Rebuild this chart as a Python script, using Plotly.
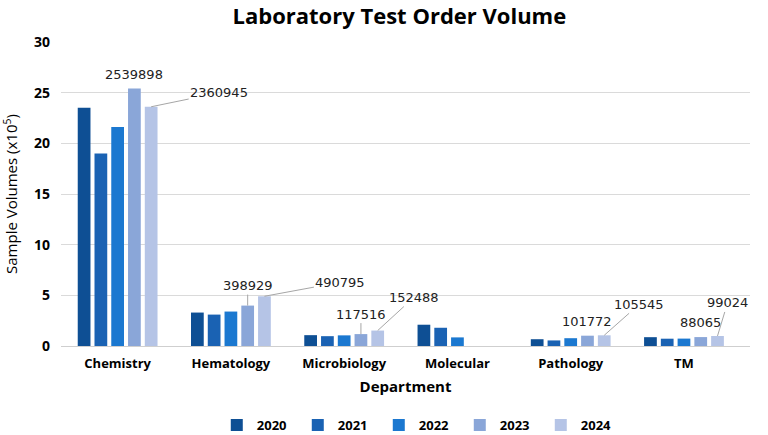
import plotly.graph_objs as go

# departments and yearly sample volumes (x10^5)
departments = ["Chemistry", "Hematology", "Microbiology", "Molecular", "Pathology", "TM"]
years = ["2020", "2021", "2022", "2023", "2024"]

vol_2020 = [23.5, 3.3, 1.07, 2.1, 0.67, 0.87]
vol_2021 = [19.0, 3.1, 0.97, 1.8, 0.55, 0.72]
vol_2022 = [21.6, 3.4, 1.05, 0.85, 0.77, 0.73]
vol_2023 = [25.39898, 3.98929, 1.17516, None, 1.01772, 0.88065]
vol_2024 = [23.60945, 4.90795, 1.52488, None, 1.05545, 0.99024]

# raw counts shown as data labels
labels_2023 = ["2539898", "398929", "117516", "", "101772", "88065"]
labels_2024 = ["2360945", "490795", "152488", "", "105545", "99024"]

colors = ["#0E4F94", "#1A62B3", "#1B78D0", "#8AA6D8", "#B5C4E6"]
font_main = "Open Sans"
font_lbl = "DejaVu Sans"

fig = go.Figure()
for yr, vals, col in zip(years, [vol_2020, vol_2021, vol_2022, vol_2023, vol_2024], colors):
    fig.add_bar(x=departments, y=vals, name=yr, marker_color=col, marker_line_width=0)

bargap = 0.26


def bar_x(i_cat, i_year):
    # centre of a grouped bar on the category axis
    w = (1 - bargap) / len(years)
    return i_cat - (1 - bargap) / 2 + (i_year + 0.5) * w


# label offsets (pixels) : (ax, ay) for leader lines, None -> plain label above bar
off_2023 = [None, (0, -20), (0, -20), None, None, None]
off_2024 = [(68, -14), (76, -14), (36, -33), None, (35, -31), (10, -33)]

annotations = []
for yi, vals, labs, offs in [(3, vol_2023, labels_2023, off_2023), (4, vol_2024, labels_2024, off_2024)]:
    for ci, (v, lab, off) in enumerate(zip(vals, labs, offs)):
        if v is None:
            continue
        if off is None:
            annotations.append(dict(
                x=bar_x(ci, yi), y=v, xref="x", yref="y", text=lab,
                showarrow=False, yanchor="bottom", yshift=5,
                font=dict(family=font_lbl, size=13, color="#222222")))
        else:
            annotations.append(dict(
                x=bar_x(ci, yi), y=v, xref="x", yref="y", text=lab,
                showarrow=True, arrowhead=0, arrowwidth=1, arrowcolor="#A6A6A6",
                ax=off[0], ay=off[1],
                font=dict(family=font_lbl, size=13, color="#222222")))

fig.update_layout(
    width=768, height=435,
    margin=dict(l=61, r=18, t=42, b=89, autoexpand=False),
    paper_bgcolor="white", plot_bgcolor="white",
    barmode="group", bargap=bargap, bargroupgap=0.24,
    title=dict(text="<b>Laboratory Test Order Volume</b>", x=0.52, xanchor="center",
               y=0.962, yanchor="middle",
               font=dict(family=font_main, size=22, color="black")),
    font=dict(family=font_main, color="black"),
    xaxis=dict(
        title=dict(text="<b>Department</b>", font=dict(size=15), standoff=10),
        tickfont=dict(size=13, weight="bold"),
        showgrid=False, showline=False, ticks="",
        ticklabelstandoff=8, automargin=False,
    ),
    yaxis=dict(
        title=dict(text="Sample Volumes (x10<sup>5</sup>)", font=dict(size=15), standoff=13),
        range=[0, 30], dtick=5,
        tickfont=dict(size=14, weight="bold"),
        gridcolor="#DADADA", gridwidth=1,
        zeroline=True, zerolinecolor="#CFCFCF", zerolinewidth=1,
        ticklabelstandoff=10, automargin=False,
    ),
    legend=dict(orientation="h", x=0.52, xanchor="center", y=-0.26, yanchor="middle",
                font=dict(size=13, weight="bold"), itemwidth=30,
                entrywidth=36, traceorder="normal"),
    annotations=annotations,
)

# page body has a default 8px margin; drop it so the figure sits at the window corner
fig.write_html("out.html", config={"displayModeBar": False},
               post_script="document.body.style.margin='0';")
